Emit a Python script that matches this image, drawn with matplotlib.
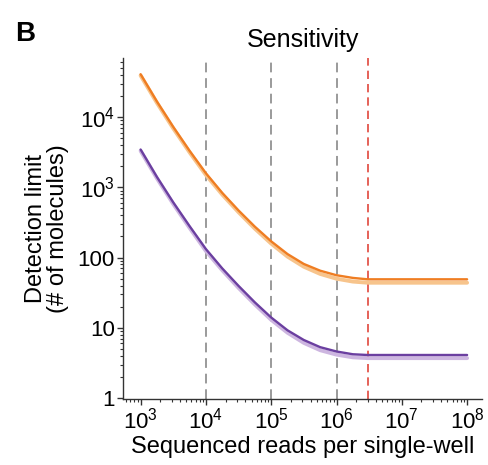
import matplotlib
matplotlib.use("Agg")
import matplotlib.pyplot as plt
from matplotlib.ticker import FixedLocator, FixedFormatter, LogLocator, NullFormatter

plt.rcParams["font.family"] = ["Liberation Sans", "DejaVu Sans"]
plt.rcParams["mathtext.fontset"] = "custom"
plt.rcParams["mathtext.rm"] = "Liberation Sans"
plt.rcParams["mathtext.it"] = "Liberation Sans:italic"

# sequenced reads (quarter-decade samples)
reads = [1e3, 1.78e3, 3.16e3, 5.62e3, 1e4, 1.78e4, 3.16e4, 5.62e4, 1e5,
         1.78e5, 3.16e5, 5.62e5, 1e6, 1.78e6, 3e6, 1e7, 1e8]

orange_dark = [40700, 16600, 7240, 3310, 1585, 832, 468, 275, 170,
               112, 81, 65, 56, 51.3, 49, 49, 49]
orange_light = [39000, 15900, 6900, 3150, 1500, 788, 442, 258, 158,
                103, 74, 58.5, 50, 45.5, 43.8, 43.8, 43.8]
purple_dark = [3450, 1400, 610, 280, 132, 70, 39.5, 23, 14,
               9.2, 6.7, 5.3, 4.6, 4.2, 4.1, 4.1, 4.1]
purple_light = [3300, 1340, 580, 265, 124, 66, 37, 21.5, 13,
                8.5, 6.1, 4.8, 4.15, 3.8, 3.7, 3.7, 3.7]

gray_lines = [1e4, 1e5, 1e6]
red_line = 3e6

x_ticks = [1e3, 1e4, 1e5, 1e6, 1e7, 1e8]
x_labels = ["$10^3$", "$10^4$", "$10^5$", "$10^6$", "$10^7$", "$10^8$"]
y_ticks = [1, 10, 100, 1e3, 1e4]
y_labels = ["1", "10", "100", "$10^3$", "$10^4$"]

fig = plt.figure(figsize=(4.88, 4.65), dpi=100)
ax = fig.add_axes([0.252, 0.142, 0.736, 0.733])

for xv in gray_lines:
    ax.axvline(xv, color="#9a9a9a", linestyle=(0, (5, 3)), linewidth=1.4, zorder=1)
ax.axvline(red_line, color="#e0473c", linestyle=(0, (5, 3)), linewidth=1.2, zorder=1)

ax.plot(reads, orange_light, color="#f7c48c", linewidth=2.8, solid_capstyle="round", solid_joinstyle="round", zorder=2)
ax.plot(reads, orange_dark, color="#ef7d22", linewidth=1.7, solid_capstyle="round", solid_joinstyle="round", zorder=3)
ax.plot(reads, purple_light, color="#cdb6e0", linewidth=2.8, solid_capstyle="round", solid_joinstyle="round", zorder=2)
ax.plot(reads, purple_dark, color="#6b3fa0", linewidth=1.7, solid_capstyle="round", solid_joinstyle="round", zorder=3)

ax.set_xscale("log")
ax.set_yscale("log")
ax.set_xlim(537, 1.7e8)
ax.set_ylim(0.97, 69000)

ax.xaxis.set_major_locator(FixedLocator(x_ticks))
ax.xaxis.set_major_formatter(FixedFormatter(x_labels))
ax.yaxis.set_major_locator(FixedLocator(y_ticks))
ax.yaxis.set_major_formatter(FixedFormatter(y_labels))
ax.xaxis.set_minor_locator(LogLocator(base=10, subs=range(2, 10), numticks=20))
ax.yaxis.set_minor_locator(LogLocator(base=10, subs=range(2, 10), numticks=20))
ax.xaxis.set_minor_formatter(NullFormatter())
ax.yaxis.set_minor_formatter(NullFormatter())

for side in ["top", "right"]:
    ax.spines[side].set_visible(False)
for side in ["left", "bottom"]:
    ax.spines[side].set_color("#333333")
    ax.spines[side].set_linewidth(1.0)

ax.tick_params(axis="both", which="major", labelsize=16, length=4, width=1, color="#333333", pad=2)
ax.tick_params(axis="both", which="minor", length=2, width=0.8, color="#333333")

ax.set_xlabel("Sequenced reads per single-well", fontsize=17, labelpad=2)
ax.set_ylabel("Detection limit\n(# of molecules)", fontsize=17, labelpad=6, linespacing=1.0)
ax.set_title("Sensitivity", fontsize=18, pad=8)

fig.text(0.03, 0.955, "B", fontsize=20, fontweight="bold", va="top", ha="left")

fig.savefig("out.png", dpi=100)
